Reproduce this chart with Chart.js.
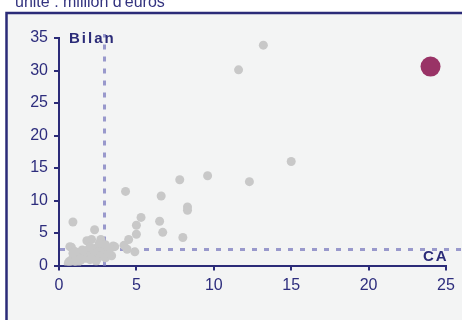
<!DOCTYPE html>
<html>
<head>
<meta charset="utf-8">
<script src="https://cdn.jsdelivr.net/npm/chart.js@4"></script>
<style>
  html, body { margin: 0; padding: 0; background: #fff; }
  canvas { display: block; }
</style>
</head>
<body>
<canvas id="chart" width="462" height="320"></canvas>
<script>
// Données : CA (x) et Bilan (y), en millions d'euros
const entreprisesCA = [13.2, 11.6, 15.0, 7.8, 9.6, 12.3, 6.6, 4.3, 8.3, 8.3, 0.9, 5.3, 6.5, 5.0, 6.7, 5.0, 8.0, 4.5,
    2.3, 2.1, 1.8, 2.7, 4.9, 4.2, 4.4, 3.5, 3.4, 3.6, 0.8, 0.65, 0.7,
    0.6, 0.8, 0.9, 1.0, 1.1, 1.2, 1.3, 1.4, 1.5, 1.6, 1.7, 1.8, 1.9, 2.0, 2.1, 2.2, 2.3, 2.4,
    2.5, 2.6, 2.7, 2.8, 2.9, 3.0, 3.1, 3.2, 3.3, 1.0, 1.5, 0.9, 2.0, 2.4, 1.2, 3.0, 2.6];
const entreprisesBilan = [33.9, 30.1, 16.0, 13.2, 13.8, 12.9, 10.7, 11.4, 9.0, 8.5, 6.7, 7.4, 6.8, 6.2, 5.1, 4.8, 4.3, 4.0,
    5.5, 4.0, 3.8, 4.0, 2.1, 3.1, 2.5, 3.0, 1.5, 2.9, 2.8, 0.6, 2.9,
    0.3, 0.8, 1.2, 0.6, 1.5, 1.0, 2.0, 0.8, 1.3, 1.8, 1.1, 2.3, 1.5, 0.9, 1.9, 1.3, 2.6, 1.6,
    1.1, 2.2, 1.5, 2.8, 1.8, 1.2, 2.4, 1.9, 2.6, 2.2, 2.4, 1.9, 2.8, 0.7, 0.4, 3.2, 3.4];
const groupeCA = [24.0];
const groupeBilan = [30.6];
const seuilCA = 2.94;
const seuilBilan = 2.46;
const xTicks = [0, 5, 10, 15, 20, 25];
const yTicks = [0, 5, 10, 15, 20, 25, 30, 35];

const navy = '#2b2b78';
const font = 'Liberation Sans, Arial, sans-serif';

function toPoints(xs, ys) {
    return xs.map((x, i) => ({ x: x, y: ys[i] }));
}

// fond, cadre et titre
const framePlugin = {
    id: 'frame',
    beforeDraw(chart) {
        const ctx = chart.ctx;
        ctx.save();
        ctx.fillStyle = '#ffffff';
        ctx.fillRect(0, 0, chart.width, chart.height);
        ctx.fillStyle = '#f3f4f4';
        ctx.fillRect(6.5, 13, chart.width, chart.height);
        ctx.strokeStyle = navy;
        ctx.lineWidth = 2.5;
        ctx.beginPath();
        ctx.moveTo(6.5, chart.height);
        ctx.lineTo(6.5, 13);
        ctx.lineTo(chart.width, 13);
        ctx.stroke();
        ctx.fillStyle = '#33337f';
        ctx.font = '16px ' + font;
        ctx.textBaseline = 'alphabetic';
        ctx.fillText("unité : million d'euros", 15, 7);
        ctx.restore();
    }
};

// lignes de seuil pointillées et libellés d'axes
const seuilPlugin = {
    id: 'seuils',
    beforeDatasetsDraw(chart) {
        const ctx = chart.ctx;
        const xs = chart.scales.x, ys = chart.scales.y;
        ctx.save();
        ctx.strokeStyle = '#9999cc';
        ctx.lineWidth = 3;
        ctx.setLineDash([5, 7]);
        ctx.beginPath();
        const vx = xs.getPixelForValue(seuilCA);
        ctx.moveTo(vx, ys.getPixelForValue(0));
        ctx.lineTo(vx, ys.getPixelForValue(35.6));
        const hy = ys.getPixelForValue(seuilBilan);
        ctx.moveTo(xs.getPixelForValue(0) + 1, hy);
        ctx.lineTo(chart.width, hy);
        ctx.stroke();
        ctx.restore();
    },
    afterDraw(chart) {
        const ctx = chart.ctx;
        const area = chart.chartArea;
        ctx.save();
        ctx.fillStyle = navy;
        ctx.font = 'bold 15px ' + font;
        ctx.letterSpacing = '2px';
        ctx.textAlign = 'left';
        ctx.fillText('Bilan', area.left + 10, area.top + 4.5);
        ctx.fillText('CA', area.right - 23, area.bottom - 4.5);
        ctx.restore();
    }
};

new Chart(document.getElementById('chart'), {
    type: 'scatter',
    data: {
        datasets: [
            {
                label: 'Groupe',
                data: toPoints(groupeCA, groupeBilan),
                backgroundColor: '#993366',
                borderWidth: 0,
                pointRadius: 10,
                pointHoverRadius: 10
            },
            {
                label: 'Entreprises',
                data: toPoints(entreprisesCA, entreprisesBilan),
                backgroundColor: '#c8c8c8',
                borderWidth: 0,
                pointRadius: 4.5,
                pointHoverRadius: 4.5
            }
        ]
    },
    options: {
        responsive: false,
        animation: false,
        devicePixelRatio: 1,
        layout: { padding: { top: 38, right: 16, left: 0, bottom: 0 } },
        plugins: {
            legend: { display: false },
            tooltip: { enabled: false }
        },
        scales: {
            x: {
                type: 'linear',
                min: 0,
                max: 25,
                afterBuildTicks: s => { s.ticks = xTicks.map(v => ({ value: v })); },
                afterFit: s => { s.height = 54.5; },
                grid: { drawOnChartArea: false, drawTicks: true, tickLength: 5, color: navy, lineWidth: 2 },
                border: { color: navy, width: 2 },
                ticks: { color: '#2d2d7d', font: { family: font, size: 16 }, padding: 5, maxRotation: 0 }
            },
            y: {
                type: 'linear',
                min: 0,
                max: 35,
                afterBuildTicks: s => { s.ticks = yTicks.map(v => ({ value: v })); },
                afterFit: s => { s.width = 59; },
                grid: { drawOnChartArea: false, drawTicks: true, tickLength: 5, color: navy, lineWidth: 2 },
                border: { color: navy, width: 2 },
                ticks: { color: '#2d2d7d', font: { family: font, size: 16 }, padding: 6 }
            }
        }
    },
    plugins: [framePlugin, seuilPlugin]
});
</script>
</body>
</html>
